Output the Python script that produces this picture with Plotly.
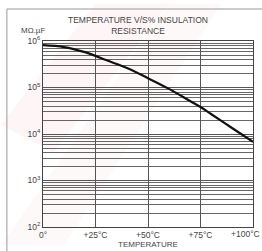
import plotly.graph_objects as go

temps = [0, 10, 20, 25, 30, 40, 50, 60, 70, 75, 80, 90, 100]
log_ir = [5.91, 5.87, 5.76, 5.68, 5.59, 5.42, 5.20, 4.97, 4.71, 4.58, 4.43, 4.13, 3.83]
ir = [10 ** v for v in log_ir]

x_ticks = [0, 25, 50, 75, 100]
x_labels = ["0°", "+25°C", "+50°C", "+75°C", "+100°C"]
y_ticks = [1e2, 1e3, 1e4, 1e5, 1e6]
y_labels = ["10<sup>2</sup>", "10<sup>3</sup>", "10<sup>4</sup>", "10<sup>5</sup>", "10<sup>6</sup>"]

fig = go.Figure()
fig.add_trace(go.Scatter(x=temps, y=ir, mode="lines", line=dict(color="#111", width=2.2, shape="spline"),
                         showlegend=False, hoverinfo="skip"))

shapes = []
# faint pink watermark stripes
shapes.append(dict(type="path", xref="paper", yref="paper",
                   path="M -0.2 0.55 L 0.25 1.2 L 0.6 1.2 L 0.05 0.4 Z",
                   fillcolor="rgba(240,140,140,0.08)", line=dict(width=0), layer="below"))
shapes.append(dict(type="path", xref="paper", yref="paper",
                   path="M -0.2 -0.1 L 0.6 1.2 L 0.85 1.2 L 0.1 -0.1 Z",
                   fillcolor="rgba(240,140,140,0.05)", line=dict(width=0), layer="below"))
# outer frame (left and top edges visible)
shapes.append(dict(type="rect", xref="paper", yref="paper", x0=-0.172, x1=1.2, y0=-0.3, y1=1.172,
                   line=dict(color="#999", width=1), fillcolor="rgba(0,0,0,0)"))

# last tick label is placed inside the page (the reference shifts it left)
shown_labels = x_labels[:-1] + [""]

fig.update_layout(
    width=262, height=251,
    margin=dict(l=43, r=9, t=41, b=24),
    paper_bgcolor="white", plot_bgcolor="rgba(0,0,0,0)",
    font=dict(family="Liberation Sans Narrow, Arial Narrow, sans-serif", size=8, color="#444"),
    shapes=shapes,
    xaxis=dict(range=[0, 100], tickvals=x_ticks, ticktext=shown_labels, showgrid=True,
               gridcolor="#555", gridwidth=1, zeroline=False, showline=True, linecolor="#444",
               linewidth=1, mirror=True, ticks="", tickfont=dict(size=8.5),
               ticklabeloverflow="allow", automargin=False),
    yaxis=dict(type="log", range=[2, 6], tickvals=y_ticks, ticktext=y_labels, showgrid=True,
               gridcolor="#555", gridwidth=0.7, zeroline=False, showline=True, linecolor="#444",
               linewidth=1, mirror=True, ticks="", tickfont=dict(size=8.5), automargin=False,
               minor=dict(tickvals=[m * 10 ** d for d in range(2, 6) for m in range(2, 10)],
                          showgrid=True, gridcolor="#666", gridwidth=0.7)),
    annotations=[
        dict(text="TEMPERATURE V/S% INSULATION<br>RESISTANCE", xref="paper", yref="paper",
             x=0.45, y=1.0, yanchor="bottom", xanchor="center", showarrow=False,
             font=dict(size=8.5, color="#444"), yshift=3),
        dict(text="MΩ.µF", xref="paper", yref="paper", x=0.02, y=1.0, xanchor="right",
             yanchor="bottom", showarrow=False, font=dict(size=8, color="#444"), yshift=4),
        dict(text="TEMPERATURE", xref="paper", yref="paper", x=0.5, y=0, yanchor="top",
             xanchor="center", showarrow=False, font=dict(size=8, color="#444"), yshift=-11),
        dict(text=x_labels[-1], xref="x", yref="paper", x=x_ticks[-1], y=0, xanchor="right",
             yanchor="top", showarrow=False, font=dict(size=8.5, color="#444"), xshift=9, yshift=0),
    ],
)

fig.write_html("out.html", config={"displayModeBar": False},
               post_script="document.body.style.margin='0';document.body.style.overflow='hidden';")
